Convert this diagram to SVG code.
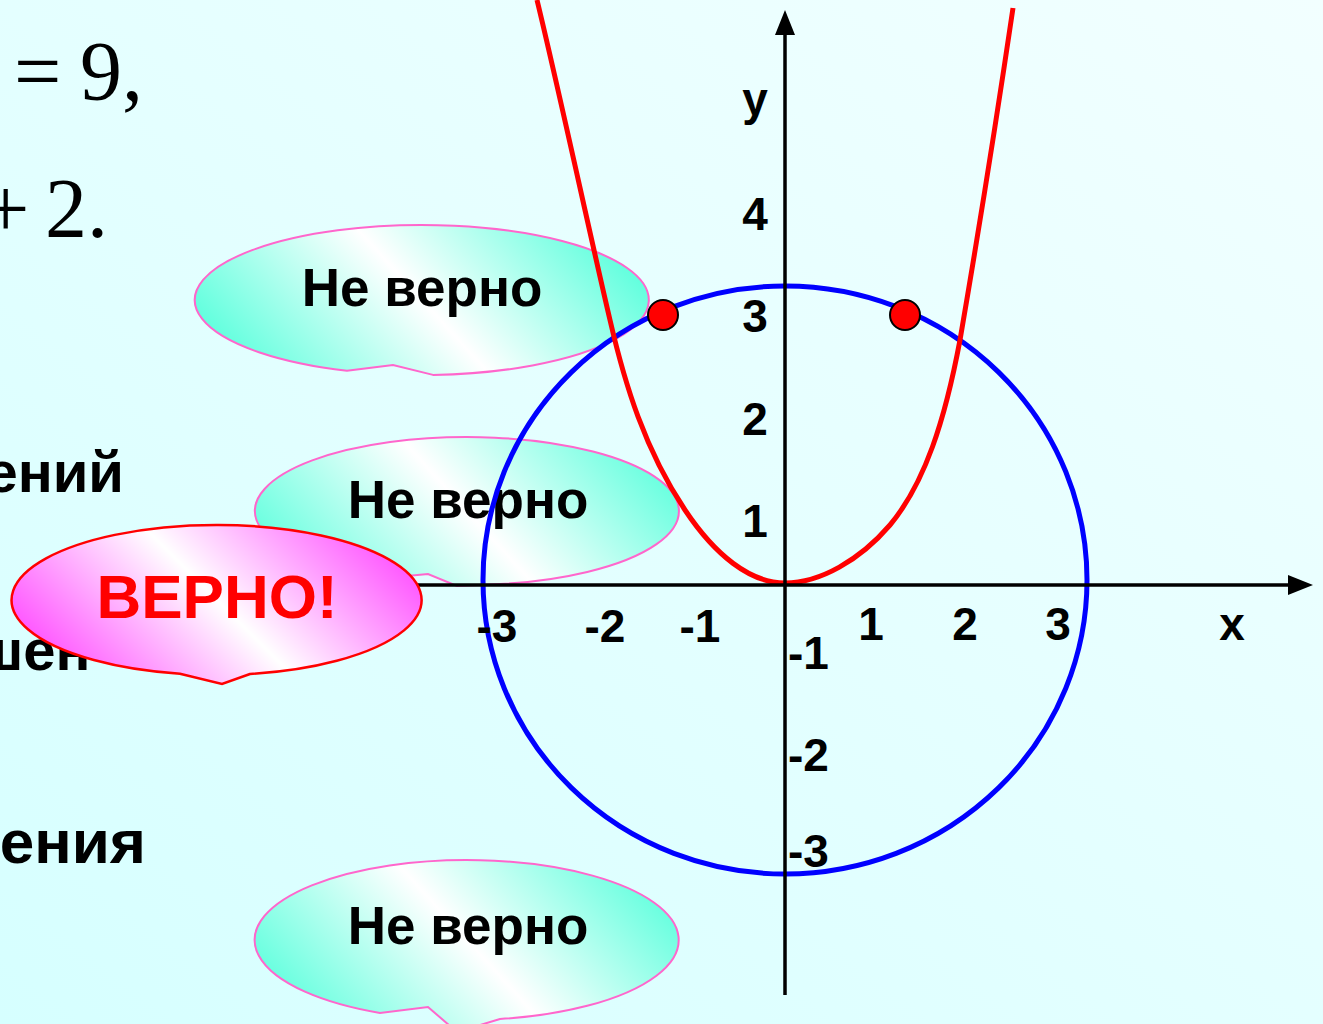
<svg xmlns="http://www.w3.org/2000/svg" width="1323" height="1024" viewBox="0 0 1323 1024">
  <defs>
    <linearGradient id="bg" x1="0" y1="1" x2="1" y2="0">
      <stop offset="0" stop-color="#D6FFFF"/>
      <stop offset="1" stop-color="#F2FFFF"/>
    </linearGradient>
    <linearGradient id="cyanFill" gradientUnits="userSpaceOnUse" x1="-160" y1="146" x2="160" y2="-146">
      <stop offset="0" stop-color="#3DFFD6"/>
      <stop offset="0.5" stop-color="#FFFFFF"/>
      <stop offset="1" stop-color="#3DFFD6"/>
    </linearGradient>
    <linearGradient id="pinkFill" gradientUnits="userSpaceOnUse" x1="-135" y1="135" x2="135" y2="-135">
      <stop offset="0" stop-color="#FF33FF"/>
      <stop offset="0.5" stop-color="#FFFFFF"/>
      <stop offset="1" stop-color="#FF33FF"/>
    </linearGradient>
    <marker id="arrow" markerUnits="userSpaceOnUse" markerWidth="25" markerHeight="20" refX="7" refY="10" orient="auto">
      <path d="M0,0 L25,10 L0,20 Z" fill="#000"/>
    </marker>
    <style>
      .serif { font-family: "Liberation Serif", "Times New Roman", serif; font-size: 84px; fill: #000; }
      .sans { font-family: "Liberation Sans", Arial, sans-serif; font-weight: bold; fill: #000; }
      .bg-text { font-size: 58px; }
      .lbl { font-size: 46px; }
      .callout-text { font-size: 53px; text-anchor: middle; }
      .cyan { fill: url(#cyanFill); stroke: #FF66CC; stroke-width: 2; }
      .pink { fill: url(#pinkFill); stroke: #FF0000; stroke-width: 2.5; }
      .axis { stroke: #000; stroke-width: 3.5; fill: none; marker-end: url(#arrow); }
      .dot { fill: #FF0000; stroke: #000; stroke-width: 2; }
    </style>
  </defs>

  <rect x="0" y="0" width="1323" height="1024" fill="url(#bg)"/>

  <g id="background-text">
    <text class="serif" x="14" y="100">=</text>
    <text class="serif" x="80" y="100">9,</text>
    <text class="serif" x="-18" y="237">+</text>
    <text class="serif" x="45" y="237">2.</text>
    <text class="sans bg-text" x="124" y="492" text-anchor="end">ений</text>
    <text class="sans bg-text" x="-25" y="670">шен</text>
    <text class="sans bg-text" x="146" y="863" text-anchor="end" style="font-size:62px">ения</text>
  </g>

  <g id="callout-1" transform="translate(422,300)">
    <path class="cyan" d="M11,74.9 L-29,65 L-75,70.8 A227,75 0 1 1 11,74.9 Z"/>
    <text class="sans callout-text" x="0" y="6">Не верно</text>
  </g>

  <g id="callout-2" transform="translate(467,511)">
    <path class="cyan" d="M33,73.1 L-10,75 L-39,63 L-87,67.5 A212,74 0 1 1 33,73.1 Z"/>
    <text class="sans callout-text" x="1" y="7">Не верно</text>
  </g>

  <g id="callout-3" transform="translate(467,940)">
    <path class="cyan" d="M33,79 L-10,92 L-39,67 L-87,73 A212,80 0 1 1 33,79 Z"/>
    <text class="sans callout-text" x="1" y="4">Не верно</text>
  </g>

  <g id="graph">
    <ellipse id="circle" cx="785" cy="580" rx="302" ry="294" fill="none" stroke="#0000FF" stroke-width="5"/>
    <path id="parabola" d="M537,0 C560,95 590,235 610,320 C625,385 645,450 685,510 C715,555 750,583 785,583 C820,583 860,560 890,525 C925,483 945,420 960,340 C972,270 995,130 1013,8" fill="none" stroke="#FF0000" stroke-width="5"/>
  </g>

  <g id="connectors">
    <line class="axis" x1="380" y1="585" x2="1295" y2="585"/>
    <line class="axis" x1="785" y1="995" x2="785" y2="28"/>
  </g>

  <g id="axis-labels" class="sans lbl">
    <text x="755" y="115" text-anchor="middle">y</text>
    <text x="1232" y="640" text-anchor="middle">x</text>
    <text x="755" y="230" text-anchor="middle">4</text>
    <text x="755" y="332" text-anchor="middle">3</text>
    <text x="755" y="435" text-anchor="middle">2</text>
    <text x="755" y="537" text-anchor="middle">1</text>
    <text x="497" y="642" text-anchor="middle">-3</text>
    <text x="605" y="642" text-anchor="middle">-2</text>
    <text x="700" y="642" text-anchor="middle">-1</text>
    <text x="871" y="640" text-anchor="middle">1</text>
    <text x="965" y="640" text-anchor="middle">2</text>
    <text x="1058" y="640" text-anchor="middle">3</text>
    <text x="788" y="669">-1</text>
    <text x="788" y="771">-2</text>
    <text x="788" y="867">-3</text>
  </g>

  <g id="points">
    <circle class="dot" cx="663" cy="315" r="15"/>
    <circle class="dot" cx="905" cy="315" r="15"/>
  </g>

  <g id="callout-correct" transform="translate(217,600)">
    <path class="pink" d="M33,74 L5,84 L-37,73.8 A205,75 0 1 1 33,74 Z"/>
    <text class="sans" x="0" y="18" text-anchor="middle" font-size="62" style="fill:#FF0000">ВЕРНО!</text>
  </g>
</svg>
